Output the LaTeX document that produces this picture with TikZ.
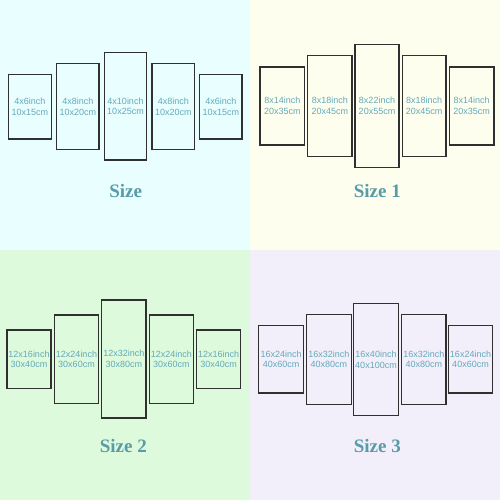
\documentclass[tikz,border=0pt]{standalone}
\usepackage{fontspec}
\setmainfont{Liberation Serif}
\newfontfamily\labelfont{Liberation Sans}
\definecolor{bgA}{HTML}{E8FEFF}
\definecolor{bgB}{HTML}{FEFEEE}
\definecolor{bgC}{HTML}{DDFADC}
\definecolor{bgD}{HTML}{F2EEFA}
\definecolor{titlecol}{HTML}{5A9BA8}
\definecolor{labelcol}{HTML}{63A9BA}
\definecolor{framecol}{HTML}{303030}
\tikzset{
  panelbox/.style={draw=framecol, line width=1.3pt, inner sep=0pt, align=center,
    text=labelcol, font=\labelfont\fontsize{9}{10.7}\selectfont},
  sizetitle/.style={text=titlecol, font=\bfseries\fontsize{19}{22}\selectfont, inner sep=0pt}
}
\newcommand{\mypanel}[7]{%
  \node[panelbox, minimum width={(#4-#2)*1pt}, minimum height={(#5-#3)*1pt}]
    (#1) at ({(#2+#4)/2},{(#3+#5)/2}) {#6\\#7};}
\begin{document}
\begin{tikzpicture}[x=1pt,y=-1pt]
\useasboundingbox (0,0) rectangle (500,500);
\fill[bgA] (0,0) rectangle (250,250);
\fill[bgB] (250,0) rectangle (500,250);
\fill[bgC] (0,250) rectangle (250,500);
\fill[bgD] (250,250) rectangle (500,500);
% Size
\mypanel{a1}{8.3}{74.3}{51.3}{139}{4x6inch}{10x15cm}
\mypanel{a2}{56.7}{63.7}{99}{149.3}{4x8inch}{10x20cm}
\mypanel{a3}{104.3}{52.7}{146.7}{160}{4x10inch}{10x25cm}
\mypanel{a4}{152}{63.7}{194.7}{149.3}{4x8inch}{10x20cm}
\mypanel{a5}{199.7}{74.3}{242}{139}{4x6inch}{10x15cm}
\node[sizetitle] (ta) at (125.7,190.7) {Size};
% Size 1
\mypanel{b1}{260}{67}{304.7}{145}{8x14inch}{20x35cm}
\mypanel{b2}{307.7}{55.3}{352}{156.7}{8x18inch}{20x45cm}
\mypanel{b3}{355}{44.3}{399}{167.7}{8x22inch}{20x55cm}
\mypanel{b4}{402.3}{55.3}{446}{156.7}{8x18inch}{20x45cm}
\mypanel{b5}{449.3}{67}{494}{145}{8x14inch}{20x35cm}
\node[sizetitle] (tb) at (377.3,190.7) {Size 1};
% Size 2
\mypanel{c1}{7}{330}{51}{388.7}{12x16inch}{30x40cm}
\mypanel{c2}{54.3}{315}{98.7}{403.3}{12x24inch}{30x60cm}
\mypanel{c3}{101.7}{300}{146}{418}{12x32inch}{30x80cm}
\mypanel{c4}{149.3}{315}{193.3}{403.3}{12x24inch}{30x60cm}
\mypanel{c5}{196.7}{330}{240.7}{388.7}{12x16inch}{30x40cm}
\node[sizetitle] (tc) at (123.3,446) {Size 2};
% Size 3
\mypanel{d1}{258.7}{325.7}{303.7}{393}{16x24inch}{40x60cm}
\mypanel{d2}{306.3}{314.3}{351.3}{404.3}{16x32inch}{40x80cm}
\mypanel{d3}{353.7}{303.3}{398.3}{415.7}{16x40inch}{40x100cm}
\mypanel{d4}{401.7}{314.3}{446}{404.3}{16x32inch}{40x80cm}
\mypanel{d5}{448.3}{325.7}{492.7}{393}{16x24inch}{40x60cm}
\node[sizetitle] (td) at (377.3,446) {Size 3};
\end{tikzpicture}
\end{document}
